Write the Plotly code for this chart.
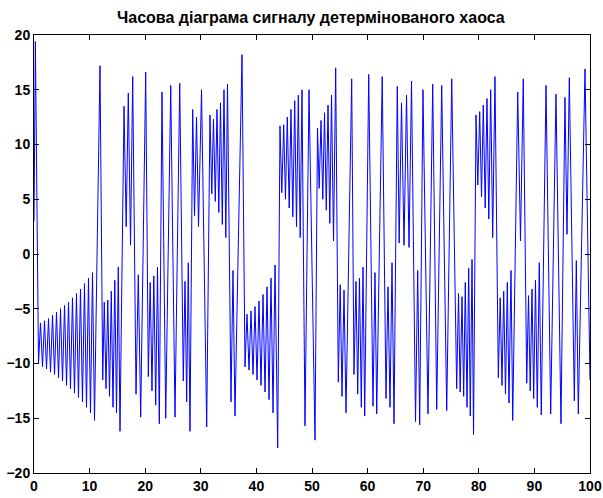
import plotly.graph_objects as go

# Time instants (s) of the local extrema of the chaotic signal
time = [
    0.00, 0.25, 0.81, 1.17, 1.53, 1.89, 2.25, 2.61, 2.97, 3.33, 3.69, 4.05, 4.41, 4.77,
    5.13, 5.49, 5.85, 6.21, 6.56, 6.92, 7.28, 7.64, 8.00, 8.36, 8.72, 9.08, 9.44, 9.80,
    10.16, 10.52, 10.88, 11.87,
    12.36, 12.64, 12.95, 13.27, 13.58, 13.90, 14.21, 14.53, 14.84, 15.16, 15.47,
    16.19, 16.58, 16.96, 17.36, 17.75, 18.35, 18.76, 19.19, 20.09,
    20.56, 20.90, 21.22, 21.55, 21.89, 22.21, 22.54,
    23.02, 23.69, 24.59, 25.36, 26.21,
    26.85, 27.16, 27.46, 27.75, 28.06,
    28.54, 28.87, 29.23, 29.59, 30.13, 31.06,
    31.65, 31.98, 32.28, 32.61, 32.91, 33.24, 33.54, 33.87, 34.17, 34.50, 34.80,
    35.43, 35.79, 36.15, 37.41,
    37.95, 38.31, 38.67, 39.03, 39.39, 39.75, 40.11, 40.47, 40.83, 41.19, 41.55, 41.91,
    42.27, 42.63, 42.99, 43.35, 43.83,
    44.24, 44.57, 44.91, 45.23, 45.56, 45.90, 46.22, 46.55, 46.89, 47.21, 47.54, 47.88,
    48.20, 48.74, 49.46, 50.54,
    50.99, 51.29, 51.62, 51.94, 52.25, 52.57, 52.88, 53.20, 53.51, 53.87, 54.26,
    54.73, 55.07, 55.40, 55.76, 56.12, 57.14,
    57.55, 57.91, 58.22, 58.54, 58.87, 59.17, 59.48, 60.20,
    60.97, 61.33, 61.64, 62.63,
    63.31, 63.67, 64.03, 64.39, 64.75,
    65.34, 65.68, 66.10, 66.55, 67.00, 67.45, 67.90,
    68.62, 69.01, 69.37, 69.96, 70.86, 71.71, 72.43, 73.33, 74.23, 75.13,
    76.02, 76.35, 76.65, 76.98, 77.28, 77.57, 77.88, 78.18, 78.47, 78.78, 79.05,
    79.50, 79.82, 80.16, 80.49, 80.81, 81.15, 81.47, 81.80, 82.14, 82.50, 82.91,
    83.51, 83.85, 84.17, 84.48, 84.80, 85.13, 85.43, 85.79, 86.10,
    87.00, 87.50, 88.00,
    88.62, 88.94, 89.25, 89.57, 89.87, 90.20, 90.52, 90.88, 91.24,
    92.09, 92.93, 93.88, 94.78, 95.50, 95.86, 96.28,
    97.18, 97.54, 97.90, 99.10, 100.00,
]

# Signal value at each of those instants
signal = [
    3.0, 19.4, -10.0, -6.3, -10.3, -6.1, -10.5, -5.9, -10.8, -5.6, -11.0, -5.3, -11.3, -5.0,
    -11.6, -4.7, -12.0, -4.4, -12.3, -4.0, -12.7, -3.6, -13.1, -3.2, -13.5, -2.7, -14.0, -2.2,
    -14.5, -1.7, -15.2, 17.2,
    -11.5, -4.4, -12.3, -4.2, -13.0, -3.4, -14.0, -2.4, -14.5, -1.2, -16.2,
    13.5, 2.5, 14.7, 0.8, 16.2, -12.8, -1.9, -14.9, 16.6,
    -11.2, -2.6, -12.5, -2.0, -13.8, -1.2, -15.5,
    14.8, -15.0, 15.4, -14.9, 15.6,
    -11.6, -2.5, -13.5, -0.8, -16.2,
    13.2, 3.5, 12.5, 2.5, 15.0, -15.8,
    12.7, 5.5, 12.3, 4.8, 13.2, 3.8, 13.8, 2.7, 15.0, 1.5, 15.5,
    -13.5, -1.5, -14.8, 18.2,
    -10.3, -5.5, -10.6, -5.2, -11.0, -4.8, -11.5, -4.3, -12.0, -3.7, -12.6, -3.0,
    -13.3, -2.2, -14.5, -1.0, -17.7,
    11.7, 5.6, 11.8, 5.0, 12.5, 4.2, 13.2, 3.4, 14.0, 2.5, 14.5, 1.5,
    15.0, -15.7, 15.0, -17.0,
    11.5, 6.0, 12.2, 5.0, 12.9, 4.0, 13.6, 2.8, 14.5, 1.2, 17.0,
    -11.7, -2.8, -13.0, -3.3, -14.5, 16.0,
    -11.0, -2.5, -12.8, -2.2, -14.0, -1.2, -14.8, 16.4,
    -13.9, -1.7, -14.6, 16.2,
    -13.2, -3.0, -14.0, -0.8, -15.5,
    15.3, 1.0, 13.8, 0.8, 14.5, 0.6, 15.8,
    -15.3, -1.5, -15.6, 15.0, -14.6, 15.5, -14.2, 15.4, -14.3, 16.0,
    -12.3, -3.6, -12.6, -3.9, -13.0, -2.6, -14.0, -1.3, -14.8, -0.5, -16.5,
    12.7, 6.3, 13.0, 5.2, 13.6, 4.2, 14.2, 3.2, 15.0, 1.5, 16.2,
    -11.3, -4.0, -12.0, -3.4, -12.8, -2.6, -13.6, -1.5, -15.2,
    14.8, 1.2, 16.0,
    -11.8, -3.8, -12.5, -3.2, -13.2, -2.4, -14.0, -0.8, -14.7,
    15.4, -14.6, 14.6, -15.5, 14.3, 1.8, 16.1,
    -13.4, -0.6, -14.6, 16.9, -11.5,
]

title_text = "Часова діаграма сигналу детермінованого хаоса"
x_ticks = [0, 10, 20, 30, 40, 50, 60, 70, 80, 90, 100]
y_ticks = [-20, -15, -10, -5, 0, 5, 10, 15, 20]

FONT = "Liberation Sans, Arial, sans-serif"

fig = go.Figure(
    go.Scatter(
        x=time, y=signal, mode="lines",
        line=dict(color="#0000ff", width=1),
        hoverinfo="skip",
    )
)

axis_common = dict(
    showgrid=False, zeroline=False, automargin=False,
    showline=True, linecolor="black", linewidth=1, mirror="allticks",
    ticks="inside", ticklen=5, tickwidth=1, tickcolor="black",
    tickfont=dict(family=FONT, size=14, color="black", weight="bold"),
)

fig.update_layout(
    width=603, height=498,
    margin=dict(l=34, r=13, t=35, b=25),
    paper_bgcolor="white", plot_bgcolor="white",
    showlegend=False,
    title=dict(
        text=title_text,
        x=0.5155, xanchor="center", y=1 - 17 / 498, yanchor="middle",
        font=dict(family=FONT, size=16, color="black", weight="bold"),
    ),
    xaxis=dict(range=[0, 100], tickvals=x_ticks, **axis_common),
    yaxis=dict(range=[-20, 20], tickvals=y_ticks, **axis_common),
)

fig.write_html("out.html")
